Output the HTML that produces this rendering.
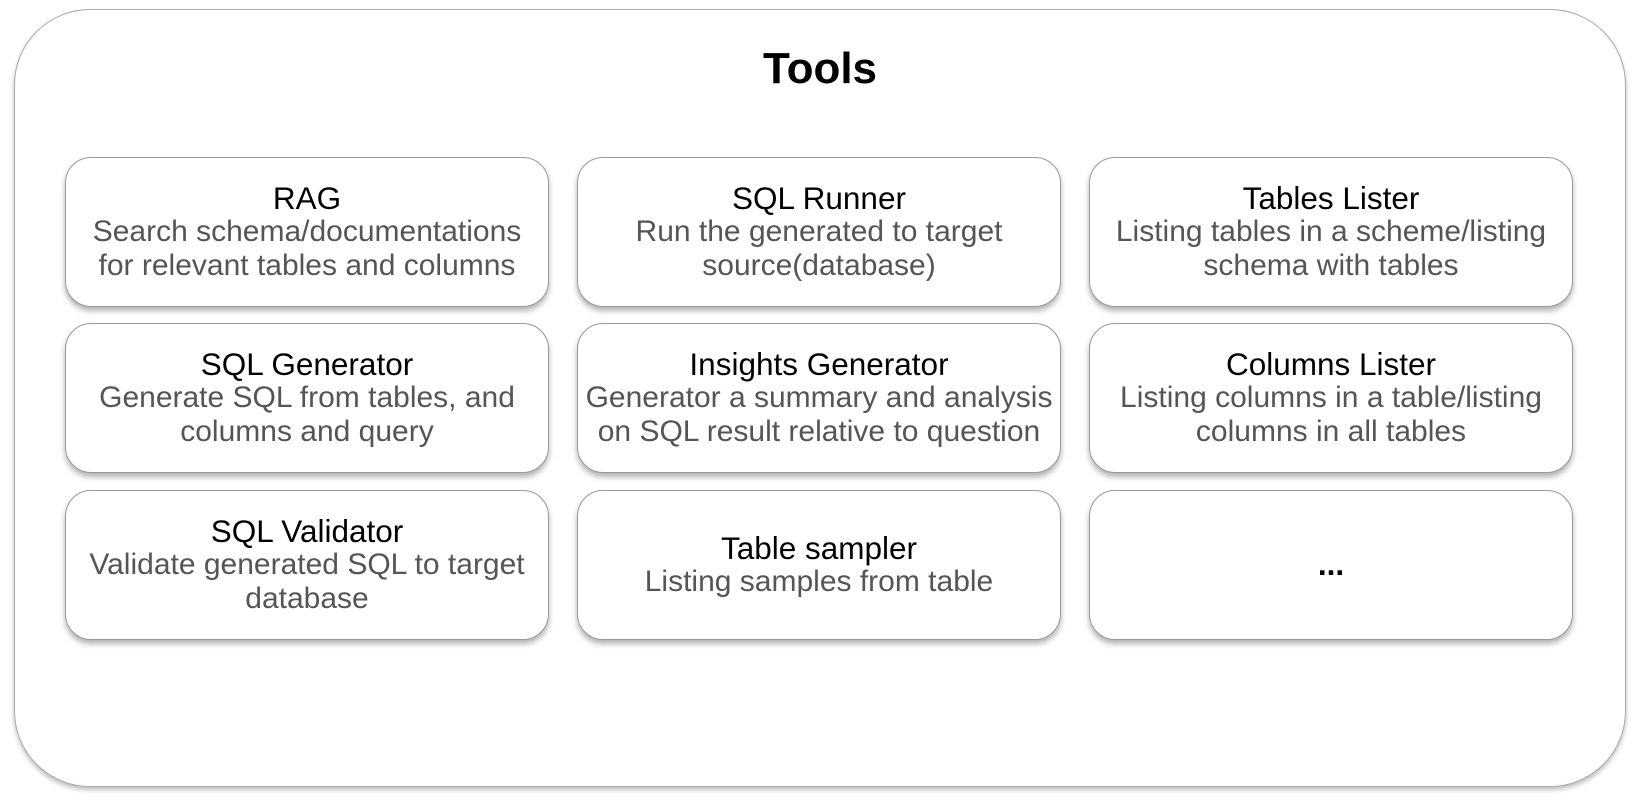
<!DOCTYPE html>
<html><head><meta charset="utf-8"><style>
html,body{margin:0;padding:0;background:#fff;width:1640px;height:804px;overflow:hidden;font-family:"Liberation Sans",Helvetica,Arial,sans-serif}
.outer{position:absolute;left:14px;top:9px;width:1610px;height:776px;border:1.5px solid #aaa;border-radius:76px;box-shadow:0 3px 5px rgba(0,0,0,0.25);background:#fff}
.title{position:absolute;left:0;width:1640px;top:44px;text-align:center;font-weight:bold;font-size:44px;color:#000}
.card{position:absolute;width:482px;height:148px;border:1.5px solid #999;border-radius:26px;box-shadow:0 4px 6px rgba(0,0,0,0.3);background:#fff;display:flex;flex-direction:column;justify-content:center;align-items:center;text-align:center;line-height:33.5px}
.card b{font-weight:normal;font-size:31.5px;color:#000}
.card span{font-size:30px;color:#555;white-space:nowrap}
</style></head><body>
<div class="outer"></div>
<div class="title">Tools</div>
<div class="card" style="left:65px;top:157px"><b>RAG</b><span>Search schema/documentations<br>for relevant tables and columns</span></div>
<div class="card" style="left:577px;top:157px"><b>SQL Runner</b><span>Run the generated to target<br>source(database)</span></div>
<div class="card" style="left:1089px;top:157px"><b>Tables Lister</b><span>Listing tables in a scheme/listing<br>schema with tables</span></div>
<div class="card" style="left:65px;top:323px"><b>SQL Generator</b><span>Generate SQL from tables, and<br>columns and query</span></div>
<div class="card" style="left:577px;top:323px"><b>Insights Generator</b><span>Generator a summary and analysis<br>on SQL result relative to question</span></div>
<div class="card" style="left:1089px;top:323px"><b>Columns Lister</b><span>Listing columns in a table/listing<br>columns in all tables</span></div>
<div class="card" style="left:65px;top:490px"><b>SQL Validator</b><span>Validate generated SQL to target<br>database</span></div>
<div class="card" style="left:577px;top:490px"><b>Table sampler</b><span>Listing samples from table</span></div>
<div class="card" style="left:1089px;top:490px"><b style="font-weight:bold">...</b></div>
</body></html>
